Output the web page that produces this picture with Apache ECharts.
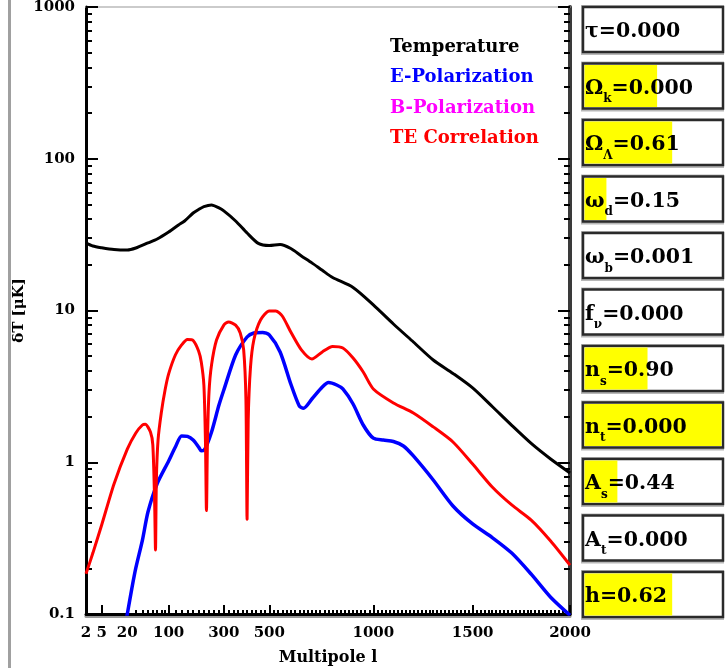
<!DOCTYPE html>
<html><head><meta charset="utf-8">
<script src="https://cdn.jsdelivr.net/npm/echarts@6/dist/echarts.min.js"></script>
<style>html,body{margin:0;padding:0;background:#fff}#c{width:725px;height:668px}</style>
</head><body><div id="c"></div>
<script>
// ---- data ----
const tempL = [2,3,5,10,20,30,50,70,100,130,150,180,200,220,250,280,300,350,400,450,500,550,600,650,700,750,800,900,1000,1100,1200,1300,1400,1500,1600,1700,1800,1900,2000];
const tempV = [27.9,26.6,25.9,25.2,25.0,25.8,27.9,29.6,32.9,36.6,38.9,43.9,46.3,48.4,49.6,47.4,45.3,38.9,32.4,27.7,26.8,27.2,25.6,22.9,20.6,18.4,16.5,14.2,10.9,8.15,6.20,4.72,3.85,3.09,2.33,1.75,1.33,1.05,0.85];

const eL = [10,15,20,25,30,40,50,70,100,120,140,160,180,200,210,220,230,250,280,300,350,400,430,470,500,550,600,640,660,700,750,780,820,850,900,950,1000,1050,1100,1150,1200,1300,1400,1500,1600,1700,1800,1900,2000];
const eV = [0.035,0.061,0.10,0.148,0.201,0.307,0.470,0.724,1.02,1.26,1.49,1.48,1.40,1.26,1.19,1.20,1.28,1.58,2.38,2.99,5.09,6.69,7.11,7.17,6.90,5.33,3.28,2.35,2.27,2.61,3.13,3.35,3.23,3.04,2.42,1.76,1.44,1.40,1.37,1.28,1.10,0.764,0.515,0.392,0.319,0.252,0.183,0.129,0.098];

const bL = [];
const bV = [];

const teL = [2,3,5,10,20,30,40,45,55,60,64,66,68,72,80,90,100,120,140,160,180,200,210,220,226,230,234,240,250,270,300,320,350,370,385,395,400,405,415,430,460,500,530,560,600,650,700,750,800,850,900,950,1000,1100,1200,1300,1400,1500,1600,1700,1800,1900,2000];
const teV = [0.184,0.252,0.386,0.719,1.22,1.56,1.76,1.78,1.58,1.30,0.55,0.264,0.76,1.40,2.11,2.99,3.82,5.09,5.93,6.44,6.35,5.41,4.58,3.23,1.40,0.48,1.40,2.90,4.38,6.39,8.02,8.40,8.0,7.11,5.5,2.57,0.42,1.90,4.2,6.39,8.66,9.93,9.93,9.2,7.21,5.50,4.79,5.33,5.79,5.66,4.86,3.93,3.04,2.46,2.11,1.71,1.36,0.973,0.687,0.523,0.416,0.303,0.21];

const xTicks = [2,5,20,100,300,500,1000,1500,2000];
const xTickLabels = ['2','5','20','100','300','500','1000','1500','2000'];
const yTicks = [0.1,1,10,100,1000];
const yTickLabels = ['0.1','1','10','100','1000'];

const paramSymbols = ['τ','Ω','Ω','ω','ω','f','n','n','A','A','h'];
const paramSubs    = ['','k','Λ','d','b','ν','s','t','s','t',''];
const paramValues  = ['0.000','0.000','0.61','0.15','0.001','0.000','0.90','0.000','0.44','0.000','0.62'];
const paramSlider  = [0,0.53,0.64,0.16,0,0,0.46,1,0.24,0,0.64];

// ---- axis transform: hybrid log/linear multipole scale ----
const LOGW = 89;
const F = l => l + LOGW * Math.log(l);

const xMinor = [];
for (let l = 30; l <= 90; l += 10) xMinor.push(l);
for (let l = 120; l < 2000; l += 20) if (xTicks.indexOf(l) < 0) xMinor.push(l);
const yMinorLog = [];
for (let d = -1; d <= 2; d++) for (let k = 2; k <= 9; k++) yMinorLog.push(Math.log10(k * Math.pow(10, d)));

const FONT = 'DejaVu Serif';
const pairs = (L, V) => L.map((l, i) => [F(l), V[i]]);
const xLabelFor = v => { let best = 0, bd = Infinity; xTicks.forEach((t, i) => { const d = Math.abs(F(t) - v); if (d < bd) { bd = d; best = i; } }); return xTickLabels[best]; };
const yLabelFor = v => { let best = 0, bd = Infinity; yTicks.forEach((t, i) => { const d = Math.abs(Math.log10(t) - Math.log10(v)); if (d < bd) { bd = d; best = i; } }); return yTickLabels[best]; };

const xMin = F(2), xMax = F(2000);
const tickStyle = {color: '#000', width: 2};

// ---- parameter panel ----
const graphics = [{type: 'rect', shape: {x: 8, y: 0, width: 3, height: 668}, style: {fill: '#a0a0a0'}, silent: true}];
const BX = 583, BW = 140, BH = 45, BY0 = 7, BSTEP = 56.5;
paramSymbols.forEach((s, i) => {
  const y = BY0 + i * BSTEP;
  graphics.push({type: 'rect', shape: {x: BX - 2, y: y - 2, width: BW + 3, height: BH + 5}, style: {fill: '#b8b8b8'}, silent: true});
  graphics.push({type: 'rect', shape: {x: BX, y: y, width: BW, height: BH}, style: {fill: '#fff', stroke: '#2a2a2a', lineWidth: 2.5}, silent: true});
  if (paramSlider[i] > 0) graphics.push({type: 'rect', shape: {x: BX + 1.5, y: y + 1.5, width: (BW - 3) * paramSlider[i], height: BH - 3}, style: {fill: '#ffff00'}, silent: true});
  const txt = '{m|' + s + '}' + (paramSubs[i] ? '{s|' + paramSubs[i] + '}' : '') + '{m|=' + paramValues[i] + '}';
  graphics.push({type: 'text', x: BX + 2, y: y + 25, silent: true, style: {
    text: txt, verticalAlign: 'middle', align: 'left', fill: '#000',
    rich: {
      m: {fontFamily: FONT, fontWeight: 'bold', fontSize: 20.5, lineHeight: 33, fill: '#000'},
      s: {fontFamily: FONT, fontWeight: 'bold', fontSize: 12, lineHeight: 12, verticalAlign: 'bottom', fill: '#000'}
    }}});
});

const lineCommon = {type: 'line', showSymbol: false, symbol: 'none', smooth: 0.25, clip: true};

const chart = echarts.init(document.getElementById('c'), null, {renderer: 'canvas'});
chart.setOption({
  animation: false,
  backgroundColor: '#fff',
  grid: {left: 86, top: 7, width: 484, height: 607, containLabel: false, outerBoundsMode: 'none'},
  legend: {
    orient: 'vertical', left: 380, top: 32, itemWidth: 0, itemHeight: 20, itemGap: 10.5,
    icon: 'rect', itemStyle: {opacity: 0}, selectedMode: false,
    textStyle: {fontFamily: FONT, fontWeight: 'bold', fontSize: 18, lineHeight: 20},
    data: [
      {name: 'Temperature', textStyle: {color: '#000000'}},
      {name: 'E-Polarization', textStyle: {color: '#0000ff'}},
      {name: 'B-Polarization', textStyle: {color: '#ff00ff'}},
      {name: 'TE Correlation', textStyle: {color: '#ff0000'}}
    ]
  },
  xAxis: [
    {type: 'value', position: 'bottom', min: xMin, max: xMax,
     axisLine: {show: true, onZero: false, lineStyle: {color: '#000', width: 3, shadowColor: '#999', shadowOffsetY: 2, shadowBlur: 0}},
     axisTick: {show: true, inside: true, length: 9, lineStyle: tickStyle, customValues: xTicks.map(F)},
     axisLabel: {show: true, customValues: xTicks.map(F), formatter: xLabelFor, fontFamily: FONT, fontWeight: 'bold', fontSize: 15, color: '#000', margin: 12},
     splitLine: {show: false},
     name: 'Multipole l', nameLocation: 'middle', nameGap: 36, nameMoveOverlap: false,
     nameTextStyle: {fontFamily: FONT, fontWeight: 'bold', fontSize: 16, color: '#000'}},
    {type: 'value', position: 'bottom', min: xMin, max: xMax,
     axisLine: {show: false, onZero: false},
     axisTick: {show: true, inside: true, length: 4, lineStyle: tickStyle, customValues: xMinor.map(F)},
     axisLabel: {show: false}, splitLine: {show: false}},
    {type: 'value', position: 'top', min: xMin, max: xMax,
     axisLine: {show: true, onZero: false, lineStyle: {color: '#bbbbbb', width: 1.5}},
     axisTick: {show: false}, axisLabel: {show: false}, splitLine: {show: false}}
  ],
  yAxis: [
    {type: 'log', logBase: 10, min: 0.1, max: 1000, position: 'left',
     axisLine: {show: true, onZero: false, lineStyle: {color: '#000', width: 3}},
     axisTick: {show: true, inside: true, length: 12, lineStyle: tickStyle},
     axisLabel: {show: true, formatter: yLabelFor, fontFamily: FONT, fontWeight: 'bold', fontSize: 15, color: '#000', margin: 11},
     splitLine: {show: false},
     name: 'δT [μK]', nameLocation: 'middle', nameGap: 59, nameRotate: 90, nameMoveOverlap: false,
     nameTextStyle: {fontFamily: FONT, fontWeight: 'bold', fontSize: 15, color: '#000'}},
    {type: 'value', position: 'left', min: -1, max: 3,
     axisLine: {show: false, onZero: false},
     axisTick: {show: true, inside: true, length: 6, lineStyle: tickStyle, customValues: yMinorLog},
     axisLabel: {show: false}, splitLine: {show: false}},
    {type: 'log', logBase: 10, min: 0.1, max: 1000, position: 'right',
     axisLine: {show: true, onZero: false, lineStyle: {color: '#3a3a3a', width: 4}},
     axisTick: {show: true, inside: true, length: 12, lineStyle: tickStyle},
     axisLabel: {show: false}, splitLine: {show: false}},
    {type: 'value', position: 'right', min: -1, max: 3,
     axisLine: {show: false, onZero: false},
     axisTick: {show: true, inside: true, length: 6, lineStyle: tickStyle, customValues: yMinorLog},
     axisLabel: {show: false}, splitLine: {show: false}}
  ],
  series: [
    Object.assign({name: 'Temperature', data: pairs(tempL, tempV), lineStyle: {color: '#000000', width: 3}, itemStyle: {color: '#000000'}}, lineCommon),
    Object.assign({name: 'E-Polarization', data: pairs(eL, eV), lineStyle: {color: '#0000ff', width: 3.5}, itemStyle: {color: '#0000ff'}}, lineCommon),
    Object.assign({name: 'B-Polarization', data: pairs(bL, bV), lineStyle: {color: '#ff00ff', width: 3}, itemStyle: {color: '#ff00ff'}}, lineCommon),
    Object.assign({name: 'TE Correlation', data: pairs(teL, teV), lineStyle: {color: '#ff0000', width: 3}, itemStyle: {color: '#ff0000'}}, lineCommon)
  ],
  graphic: {elements: graphics}
});
</script></body></html>
